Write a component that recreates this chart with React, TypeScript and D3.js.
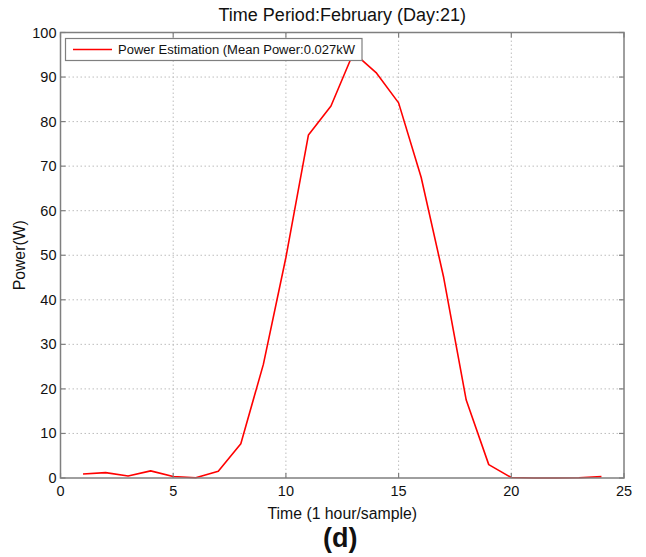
import React from "react";
import * as d3 from "d3";

const hours = [1, 2, 3, 4, 5, 6, 7, 8, 9, 10, 11, 12, 13, 14, 15, 16, 17, 18, 19, 20, 21, 22, 23, 24];
const power = [0.9, 1.2, 0.45, 1.6, 0.35, 0.05, 1.5, 7.7, 25.5, 49.5, 77, 83.5, 95.5, 91, 84.2, 67.5, 45, 17.5, 3, 0.1, 0, 0, 0.05, 0.3];
const xTicks = [0, 5, 10, 15, 20, 25];
const yTicks = [0, 10, 20, 30, 40, 50, 60, 70, 80, 90, 100];
const title = "Time Period:February (Day:21)";
const legendLabel = "Power Estimation (Mean Power:0.027kW";

const W = 646, H = 557;
const left = 60.5, right = 624, top = 32.5, bottom = 478;
const font = "'Liberation Sans', Arial, sans-serif";

export default function App() {
  const x = d3.scaleLinear().domain([0, 25]).range([left, right]);
  const y = d3.scaleLinear().domain([0, 100]).range([bottom, top]);
  const line = d3.line<number>().x((_, i) => x(hours[i])).y((d) => y(d));
  const axisColor = "#7f7f7f";
  return (
    <svg width={W} height={H} style={{ position: "absolute", left: 0, top: 0, background: "#fff" }} fontFamily={font}>
      <rect x={0} y={0} width={W} height={H} fill="#fff" />
      {xTicks.slice(1, -1).map((t) => (
        <line key={"gx" + t} x1={x(t)} x2={x(t)} y1={top} y2={bottom} stroke="#bdbdbd" strokeWidth={1} strokeDasharray="1.5,2.5" />
      ))}
      {yTicks.slice(1, -1).map((t) => (
        <line key={"gy" + t} x1={left} x2={right} y1={y(t)} y2={y(t)} stroke="#bdbdbd" strokeWidth={1} strokeDasharray="1.5,2.5" />
      ))}
      <path d={line(power) || ""} fill="none" stroke="#ff0000" strokeWidth={1.6} strokeLinejoin="round" />
      <rect x={left} y={top} width={right - left} height={bottom - top} fill="none" stroke={axisColor} strokeWidth={1.5} />
      {xTicks.map((t) => (
        <g key={"tx" + t}>
          <line x1={x(t)} x2={x(t)} y1={bottom} y2={bottom - 5} stroke={axisColor} strokeWidth={1.2} />
          <line x1={x(t)} x2={x(t)} y1={top} y2={top + 5} stroke={axisColor} strokeWidth={1.2} />
          <text x={x(t)} y={bottom + 18} fontSize={14.5} textAnchor="middle" fill="#111">{t}</text>
        </g>
      ))}
      {yTicks.map((t) => (
        <g key={"ty" + t}>
          <line x1={left} x2={left + 5} y1={y(t)} y2={y(t)} stroke={axisColor} strokeWidth={1.2} />
          <line x1={right} x2={right - 5} y1={y(t)} y2={y(t)} stroke={axisColor} strokeWidth={1.2} />
          <text x={left - 4} y={y(t) + 5} fontSize={14.5} textAnchor="end" fill="#111">{t}</text>
        </g>
      ))}
      <rect x={65.5} y={38.5} width={296.5} height={22} fill="#fff" stroke={axisColor} strokeWidth={1.2} />
      <line x1={73} x2={112} y1={49.5} y2={49.5} stroke="#ff0000" strokeWidth={1.4} />
      <text x={118} y={54} fontSize={13} fill="#111">{legendLabel}</text>
      <text x={(left + right) / 2} y={21} fontSize={18} textAnchor="middle" fill="#111">{title}</text>
      <text x={(left + right) / 2} y={519} fontSize={15.8} textAnchor="middle" fill="#111">Time (1 hour/sample)</text>
      <text transform={`translate(25,${(top + bottom) / 2}) rotate(-90)`} fontSize={15.8} textAnchor="middle" fill="#111">Power(W)</text>
      <text x={(left + right) / 2 - 2} y={547} fontSize={27} fontWeight="bold" textAnchor="middle" fill="#111">(d)</text>
    </svg>
  );
}
